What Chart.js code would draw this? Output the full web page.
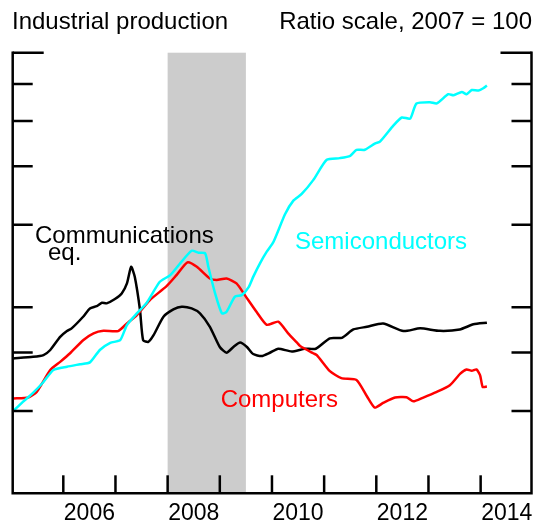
<!DOCTYPE html>
<html>
<head>
<meta charset="utf-8">
<script src="https://cdn.jsdelivr.net/npm/chart.js@4/dist/chart.umd.min.js"></script>
<style>
  html, body { margin: 0; padding: 0; background: #fff; }
  canvas { display: block; }
</style>
</head>
<body>
<canvas id="c" width="537" height="523"></canvas>
<script>
// ---- Data (decimal years, index 2007 = 100) ----
const commYears = [2005.04, 2005.42, 2005.62, 2005.75, 2005.94, 2006.07, 2006.16, 2006.38, 2006.51, 2006.64, 2006.74, 2006.83, 2006.99, 2007.12, 2007.22, 2007.30, 2007.37, 2007.47, 2007.53, 2007.63, 2007.73, 2007.92, 2008.11, 2008.27, 2008.46, 2008.62, 2008.81, 2009.00, 2009.13, 2009.26, 2009.39, 2009.52, 2009.64, 2009.80, 2009.96, 2010.12, 2010.38, 2010.63, 2010.84, 2011.11, 2011.34, 2011.56, 2011.82, 2012.13, 2012.52, 2012.84, 2013.22, 2013.60, 2013.86, 2014.12];
const commValues = [77.7, 78.3, 79.0, 81.0, 86.4, 88.9, 90.1, 95.4, 99.4, 100.5, 102.2, 101.9, 104.1, 107.0, 112.4, 122.0, 116.1, 98.6, 85.0, 84.3, 87.1, 95.4, 98.9, 100.2, 99.4, 97.0, 90.8, 82.2, 79.9, 82.2, 84.0, 82.2, 79.4, 78.6, 79.9, 81.5, 80.4, 81.5, 81.5, 85.8, 86.0, 89.6, 90.8, 92.3, 88.9, 90.1, 89.0, 89.6, 91.9, 92.6];

const compYears = [2005.04, 2005.33, 2005.49, 2005.75, 2005.94, 2006.13, 2006.38, 2006.58, 2006.77, 2007.05, 2007.22, 2007.41, 2007.66, 2007.98, 2008.17, 2008.38, 2008.56, 2008.81, 2008.94, 2009.13, 2009.32, 2009.48, 2009.71, 2009.90, 2010.12, 2010.31, 2010.48, 2010.54, 2010.79, 2010.86, 2011.11, 2011.33, 2011.62, 2011.82, 2011.97, 2012.14, 2012.36, 2012.58, 2012.71, 2012.89, 2013.16, 2013.41, 2013.61, 2013.73, 2013.83, 2013.92, 2013.99, 2014.04, 2014.12];
const compValues = [63.8, 64.1, 65.9, 73.4, 76.4, 79.7, 85.0, 87.9, 89.0, 88.9, 92.3, 96.2, 103.6, 110.9, 117.1, 124.7, 122.0, 115.2, 114.3, 115.2, 112.4, 106.1, 97.5, 91.7, 93.1, 87.9, 84.0, 82.6, 79.7, 79.0, 73.0, 70.5, 69.9, 64.5, 61.0, 62.5, 64.1, 64.2, 62.9, 64.0, 65.9, 68.1, 72.1, 73.6, 73.1, 73.6, 71.5, 67.5, 67.7];

const semiYears = [2005.04, 2005.23, 2005.42, 2005.62, 2005.81, 2006.07, 2006.32, 2006.51, 2006.70, 2006.90, 2007.09, 2007.22, 2007.41, 2007.60, 2007.85, 2008.05, 2008.24, 2008.46, 2008.59, 2008.72, 2008.78, 2008.91, 2009.04, 2009.13, 2009.29, 2009.42, 2009.55, 2009.64, 2009.77, 2009.90, 2010.03, 2010.25, 2010.41, 2010.57, 2010.79, 2011.05, 2011.30, 2011.50, 2011.62, 2011.78, 2011.98, 2012.07, 2012.33, 2012.49, 2012.65, 2012.77, 2013.03, 2013.16, 2013.38, 2013.48, 2013.64, 2013.73, 2013.83, 2013.96, 2014.05, 2014.12];
const semiValues = [60.0, 62.8, 65.6, 69.2, 73.4, 74.6, 75.5, 76.2, 81.0, 83.9, 85.0, 91.6, 97.0, 102.2, 113.3, 117.1, 124.1, 132.0, 130.7, 130.3, 122.0, 107.0, 97.0, 97.8, 105.3, 106.1, 110.2, 116.1, 124.1, 131.4, 138.0, 158.0, 169.0, 174.6, 186.9, 206.6, 208.3, 210.7, 217.0, 217.0, 224.0, 225.8, 244.7, 254.4, 253.1, 272.6, 274.4, 272.6, 285.3, 283.9, 288.5, 285.3, 291.2, 290.5, 293.8, 297.8];

const yTickValues = [60, 80, 100, 150, 200, 250, 300, 350];
const xTickYears = [2006, 2007, 2008, 2009, 2010, 2011, 2012, 2013, 2014];
const xLabelYears = [2006, 2008, 2010, 2012, 2014];
const recession = [2008.0, 2009.5];

const FONT = '"Liberation Sans", Arial, Helvetica, sans-serif';

function pts(xs, ys) { return xs.map((x, i) => ({ x: x, y: ys[i] })); }

const framePlugin = {
  id: 'frame',
  beforeDatasetsDraw(chart) {
    const { ctx, chartArea: a, scales: { x } } = chart;
    ctx.save();
    ctx.fillStyle = '#cccccc';
    const x0 = x.getPixelForValue(recession[0]);
    const x1 = x.getPixelForValue(recession[1]);
    ctx.fillRect(x0, a.top, x1 - x0, a.bottom - a.top);
    ctx.restore();
  },
  afterDatasetsDraw(chart) {
    const { ctx, chartArea: a, scales: { x, y } } = chart;
    ctx.save();
    ctx.strokeStyle = '#000';
    ctx.lineWidth = 2.5;
    ctx.lineCap = 'butt';
    ctx.beginPath();
    ctx.moveTo(a.left, a.top - 1.2);
    ctx.lineTo(a.left, a.bottom);
    ctx.lineTo(a.right, a.bottom);
    ctx.lineTo(a.right, a.top - 1.2);
    ctx.stroke();
    // y ticks, inward both sides
    yTickValues.forEach(v => {
      const py = y.getPixelForValue(v);
      const len = (v === 350) ? 31 : 20;
      ctx.beginPath();
      ctx.moveTo(a.left, py); ctx.lineTo(a.left + len, py);
      ctx.moveTo(a.right, py); ctx.lineTo(a.right - len, py);
      ctx.stroke();
    });
    // x ticks inward
    xTickYears.forEach(t => {
      const px = x.getPixelForValue(t);
      ctx.beginPath();
      ctx.moveTo(px, a.bottom); ctx.lineTo(px, a.bottom - 18);
      ctx.stroke();
    });
    // x labels
    ctx.fillStyle = '#000';
    ctx.font = '23px ' + FONT;
    ctx.textAlign = 'center';
    ctx.textBaseline = 'alphabetic';
    xLabelYears.forEach(t => {
      ctx.fillText(String(t), x.getPixelForValue(t + 0.5), 519.5);
    });
    // header texts
    ctx.font = '24px ' + FONT;
    ctx.textAlign = 'left';
    ctx.fillText('Industrial production', 12, 28.5);
    ctx.textAlign = 'right';
    ctx.fillText('Ratio scale, 2007 = 100', 532, 28.5);
    // series labels
    ctx.font = '24px ' + FONT;
    ctx.textAlign = 'left';
    ctx.fillStyle = '#000';
    ctx.fillText('Communications', 35, 242.7);
    ctx.fillText('eq.', 48, 259.5);
    ctx.fillStyle = '#00ffff';
    ctx.fillText('Semiconductors', 295, 249.3);
    ctx.fillStyle = '#ff0000';
    ctx.textAlign = 'right';
    ctx.fillText('Computers', 338, 406.7);
    ctx.restore();
  }
};

new Chart(document.getElementById('c'), {
  type: 'line',
  data: {
    datasets: [
      { label: 'Semiconductors', data: pts(semiYears, semiValues), borderColor: '#00ffff' },
      { label: 'Computers', data: pts(compYears, compValues), borderColor: '#ff0000' },
      { label: 'Communications eq.', data: pts(commYears, commValues), borderColor: '#000000' }
    ]
  },
  options: {
    responsive: false,
    animation: false,
    layout: { padding: { left: 12.7, right: 5.5, top: 52.7, bottom: 29.7 } },
    elements: {
      line: { borderWidth: 2.5, tension: 0.2, fill: false },
      point: { radius: 0 }
    },
    plugins: { legend: { display: false }, tooltip: { enabled: false } },
    scales: {
      x: { type: 'linear', min: 2005.03, max: 2014.975, display: false },
      y: { type: 'logarithmic', min: 40, max: 350, display: false }
    }
  },
  plugins: [framePlugin]
});
</script>
</body>
</html>
